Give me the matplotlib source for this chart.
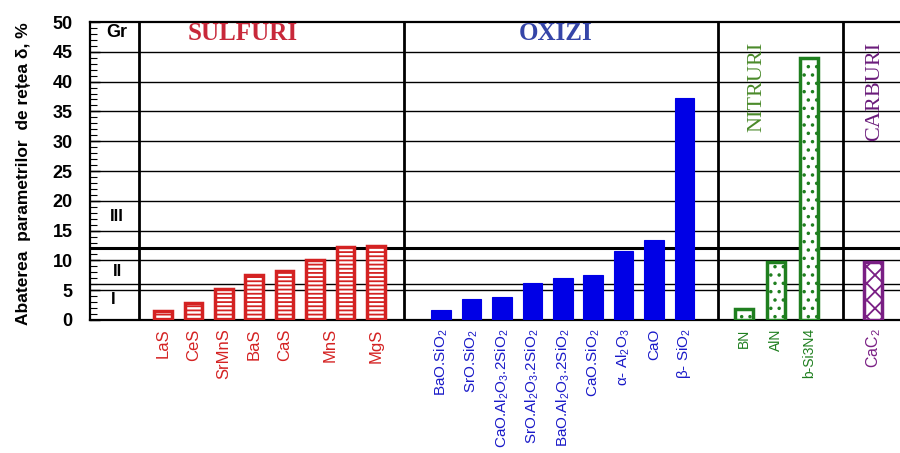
import matplotlib.pyplot as plt
import numpy as np

plt.rcParams['hatch.linewidth'] = 1.3
plt.rcParams['mathtext.fontset'] = 'custom'
plt.rcParams['mathtext.rm'] = 'Liberation Sans'
plt.rcParams['mathtext.it'] = 'Liberation Sans'

# data
sulf_labels = ["LaS", "CeS", "SrMnS", "BaS", "CaS", "MnS", "MgS"]
sulf_label_idx = [0, 1, 2, 3, 4, 5.5, 7]
sulf_vals = [1.5, 2.8, 5.2, 7.5, 8.3, 10.1, 12.2, 12.5]

oxi_labels = [r"BaO.SiO$_2$", r"SrO.SiO$_2$", r"CaO.Al$_2$O$_3$.2SiO$_2$",
              r"SrO.Al$_2$O$_3$.2SiO$_2$", r"BaO.Al$_2$O$_3$.2SiO$_2$",
              r"CaO.SiO$_2$", r"α- Al$_2$O$_3$", "CaO", r"β- SiO$_2$"]
oxi_vals = [1.6, 3.6, 3.8, 6.2, 7.1, 7.6, 11.5, 13.4, 37.2]

nitr_labels = ["BN", "AlN", "b-Si3N4"]
nitr_vals = [1.8, 9.8, 44.0]

carb_labels = [r"CaC$_2$"]
carb_vals = [9.8]

hlines = [5, 6, 10, 15, 20, 25, 30, 35, 40, 45]

# x layout (one unit ~ one bar slot)
x_sulf = 2.4 + np.arange(len(sulf_vals))
x_oxi = 11.55 + np.arange(len(oxi_vals))
x_nitr = 21.5 + 1.07 * np.arange(len(nitr_vals))
x_carb = 25.76 + np.arange(len(carb_vals))
dividers = [1.61, 10.33, 20.66, 24.77]

red = '#d42222'
blue = '#0000e6'
green = '#1f7f1f'
purple = '#7a1f84'

fig = plt.figure(figsize=(9, 4.53), dpi=100)
ax = fig.add_axes([0.1, 0.2936, 0.9, 0.6578])

for h in hlines:
    ax.axhline(h, color='black', lw=1.0, zorder=1)
ax.axhline(12, color='black', lw=2.2, zorder=1)
for d in dividers:
    ax.axvline(d, color='black', lw=2.0, zorder=2)

ax.bar(x_sulf, sulf_vals, width=0.58, color='white', edgecolor=red,
       hatch='----', lw=2.5, zorder=3)
ax.bar(x_oxi, oxi_vals, width=0.64, color=blue, edgecolor=blue, lw=0.8, zorder=3)
ax.bar(x_nitr, nitr_vals, width=0.58, color='white', edgecolor=green,
       hatch='..', lw=2.5, zorder=3)
ax.bar(x_carb, carb_vals, width=0.58, color='white', edgecolor=purple,
       hatch='xx', lw=2.5, zorder=3)

ax.set_xlim(0, 26.64)
ax.set_ylim(0, 50)

# x tick labels, coloured per group
ticks = list(x_sulf[0] + np.array(sulf_label_idx)) + list(x_oxi) + list(x_nitr) + list(x_carb)
labels = sulf_labels + oxi_labels + nitr_labels + carb_labels
colors = [red] * len(sulf_labels) + ['#1a1ac8'] * len(oxi_labels) + \
         [green] * len(nitr_labels) + [purple] * len(carb_labels)
sizes = [12] * len(sulf_labels) + [11] * len(oxi_labels) + \
        [10] * len(nitr_labels) + [11.5] * len(carb_labels)
ax.set_xticks(ticks)
ax.set_xticklabels(labels, rotation=90, va='top', ha='center')
for t, c, s in zip(ax.get_xticklabels(), colors, sizes):
    t.set_color(c)
    t.set_fontsize(s)
    t.set_family('Liberation Sans')
ax.tick_params(axis='x', length=0, pad=6)

ax.set_yticks(range(0, 51, 5))
ax.set_yticks(range(0, 51), minor=True)
ax.tick_params(axis='y', which='major', direction='in', length=7, width=1,
               pad=12.5, labelsize=13)
ax.tick_params(axis='y', which='minor', direction='in', length=5, width=0.8)
for t in ax.get_yticklabels():
    t.set_fontweight('bold')
    t.set_family('Liberation Sans')

for s in ['top', 'left', 'bottom']:
    ax.spines[s].set_linewidth(1.6)
ax.spines['right'].set_visible(False)

fig.text(0.026, 0.617, "Abaterea  parametrilor  de rețea δ, %", rotation=90,
         ha='center', va='center', fontsize=12.5, fontweight='bold',
         family='Liberation Sans')

# group titles and zone marks
ax.text(5.03, 48.1, "SULFURI", color='#c8283a', fontsize=18, fontweight='bold',
        family='Liberation Serif', ha='center', va='center')
ax.text(15.33, 48.1, "OXIZI", color='#3545a8', fontsize=18, fontweight='bold',
        family='Liberation Serif', ha='center', va='center')
ax.text(21.94, 39.1, "NITRURI", color='#4a8a2a', fontsize=16, rotation=90,
        family='Liberation Serif', ha='center', va='center')
ax.text(25.79, 38.3, "CARBURI", color='#6a1b7a', fontsize=16, rotation=90,
        family='Liberation Serif', ha='center', va='center')

ax.text(0.89, 48.2, "Gr", fontsize=13, fontweight='bold', ha='center', va='center',
        family='Liberation Sans')
ax.text(0.89, 17.4, "III", fontsize=12, fontweight='bold', ha='center', va='center',
        family='Liberation Sans')
ax.text(0.89, 8.2, "II", fontsize=12, fontweight='bold', ha='center', va='center',
        family='Liberation Sans')
ax.text(0.76, 3.4, "I", fontsize=12, fontweight='bold', ha='center', va='center',
        family='Liberation Sans')

plt.savefig('out.png', dpi=100)
